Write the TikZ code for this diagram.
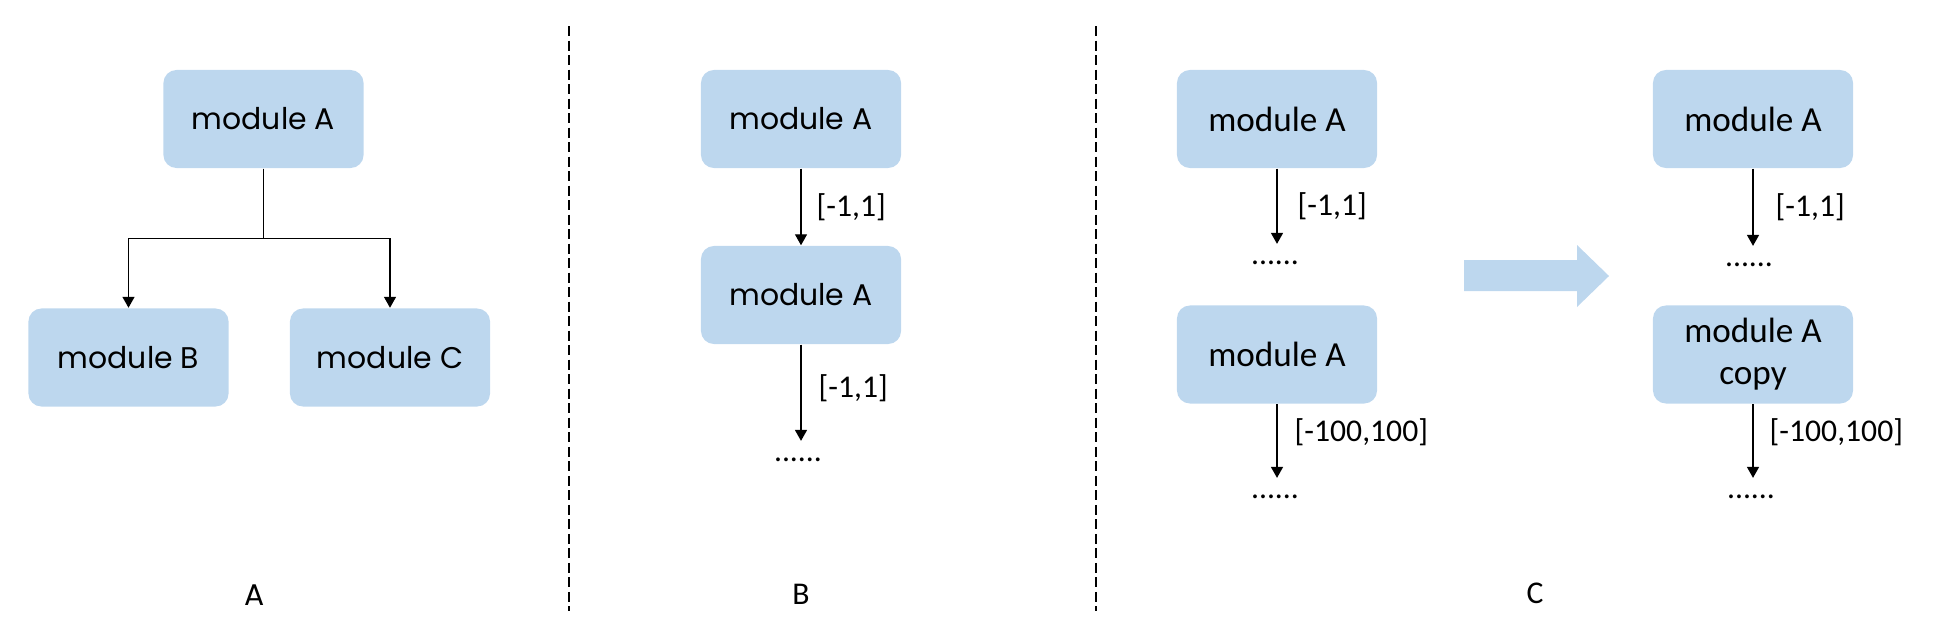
\documentclass[tikz,border=0pt]{standalone}
\usepackage{fontspec}
\setmainfont{Carlito}
\newfontfamily\geofont{Poppins}
\usetikzlibrary{arrows.meta}
\definecolor{boxblue}{HTML}{BDD7EE}
\begin{document}
\begin{tikzpicture}[x=0.01cm,y=-0.01cm,
	module/.style={fill=boxblue,rounded corners=1.3mm,minimum width=2cm,minimum height=0.98cm,inner sep=0pt},
	geo/.style={font=\geofont\fontsize{8.5}{10}\selectfont},
	cal/.style={font=\fontsize{10}{12}\selectfont,align=center},
	lbl/.style={font=\fontsize{9}{11}\selectfont,inner sep=0pt},
	dots/.style={font=\fontsize{9}{11}\selectfont,inner xsep=0pt,inner ysep=1.65mm},
	arr/.style={line width=0.4pt,-{Triangle[length=1.1mm,width=1.2mm]}},
	sep/.style={line width=0.5pt,dash pattern=on 1mm off 0.45mm}]
	\useasboundingbox (0,0) rectangle (1940,636);
	% A
	\node[module,geo] (a1) at (263.5,119) {module A};
	\node[module,geo] (a2) at (128.5,357.5) {module B};
	\node[module,geo] (a3) at (390,357.5) {module C};
	\draw[arr] (a1.south) -- ++(0,70) -| (a2.north);
	\draw[arr] (a1.south) -- ++(0,70) -| (a3.north);
	\node[geo] (la) at (255,595) {A};
	\draw[sep] (569,26) -- (569,611);
	% B
	\node[module,geo] (b1) at (801,119) {module A};
	\node[module,geo] (b2) at (801,295) {module A};
	\node[dots] (b3) at (798,460) {......};
	\draw[arr] (b1.south) -- (b2.north) node[lbl,midway,right=1.5mm] {[-1,1]};
	\draw[arr] (b2.south) -- (b2.south |- b3.north) node[lbl,pos=0.45,right=1.7mm] {[-1,1]};
	\node[lbl] (lb) at (801,594) {B};
	\draw[sep] (1096,26) -- (1096,611);
	% C
	\node[module,cal] (c1) at (1277,119) {module A};
	\node[dots] (c2) at (1275,263) {......};
	\node[module,cal] (c3) at (1277,354.5) {module A};
	\node[dots] (c4) at (1275,497) {......};
	\draw[arr] (c1.south) -- (c1.south |- c2.north) node[lbl,midway,right=2mm] {[-1,1]};
	\draw[arr] (c3.south) -- (c3.south |- c4.north) node[lbl,pos=0.38,right=1.7mm] {[-100,100]};
	\fill[boxblue] (1464,260) -- (1577,260) -- (1577,245) -- (1609,276) -- (1577,307) -- (1577,291) -- (1464,291) -- cycle;
	\node[module,cal] (c5) at (1753,119) {module A};
	\node[dots] (c6) at (1749,265) {......};
	\node[module,cal] (c7) at (1753,354.5) {module A\\copy};
	\node[dots] (c8) at (1751,497) {......};
	\draw[arr] (c5.south) -- (c5.south |- c6.north) node[lbl,midway,right=2.2mm] {[-1,1]};
	\draw[arr] (c7.south) -- (c7.south |- c8.north) node[lbl,pos=0.38,right=1.6mm] {[-100,100]};
	\node[lbl] (lc) at (1535,593) {C};
\end{tikzpicture}
\end{document}
